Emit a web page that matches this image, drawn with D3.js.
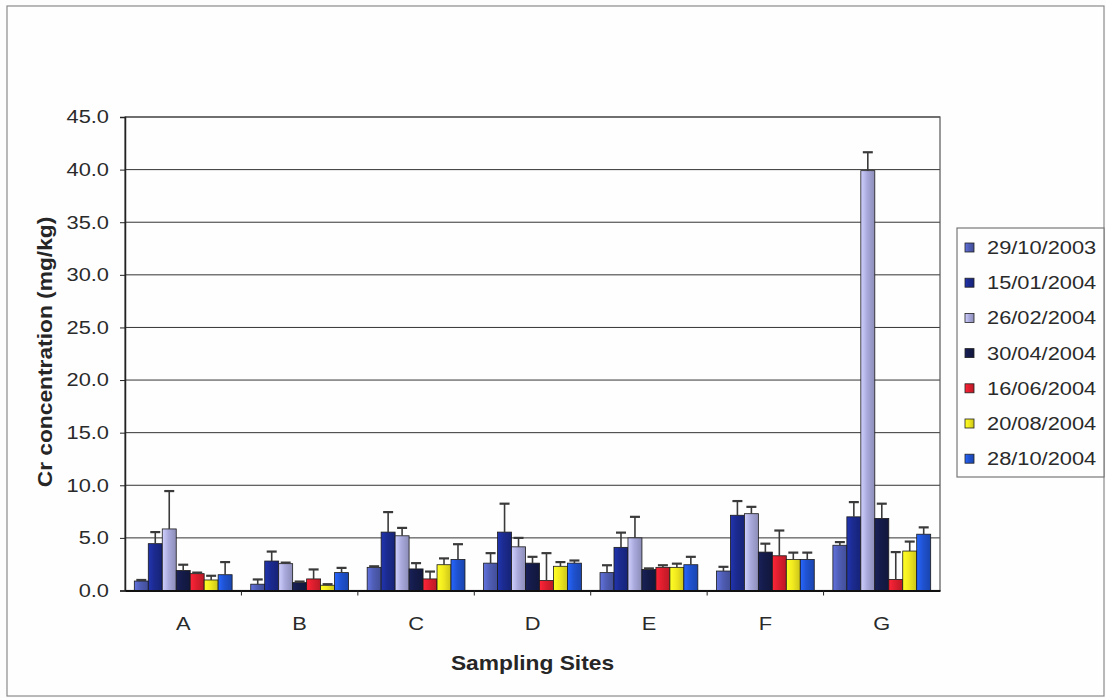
<!DOCTYPE html>
<html>
<head>
<meta charset="utf-8">
<script src="https://cdn.jsdelivr.net/npm/d3@7"></script>
<style>
  body { margin: 0; background: #fdfdfd; }
  text { font-family: Arial, "Liberation Sans", sans-serif; fill: #262626; }
</style>
</head>
<body>
<div id="chart-area"></div>
<script>
// sites and sampling dates
var sites = ["A", "B", "C", "D", "E", "F", "G"];
var dates = ["29/10/2003", "15/01/2004", "26/02/2004", "30/04/2004", "16/06/2004", "20/08/2004", "28/10/2004"];
var colors = ["#4f5db4", "#1b2a8e", "#a9a9dc", "#141b48", "#de1e2e", "#f1ea1f", "#1f52d0"];

// mean Cr (mg/kg) per date, one value per site A..G
var d20031029 = [0.9, 0.6, 2.2, 2.6, 1.7, 1.85, 4.3];
var d20040115 = [4.45, 2.8, 5.55, 5.55, 4.1, 7.15, 7.0];
var d20040226 = [5.85, 2.55, 5.2, 4.15, 5.0, 7.3, 39.9];
var d20040430 = [1.9, 0.75, 2.05, 2.6, 2.0, 3.65, 6.85];
var d20040616 = [1.6, 1.1, 1.1, 0.95, 2.2, 3.3, 1.05];
var d20040820 = [1.0, 0.5, 2.45, 2.3, 2.2, 2.95, 3.75];
var d20041028 = [1.5, 1.7, 2.95, 2.6, 2.45, 2.95, 5.35];

// standard deviation (upper error bars)
var e20031029 = [0.1, 0.45, 0.1, 0.95, 0.7, 0.4, 0.3];
var e20040115 = [1.1, 0.9, 1.9, 2.7, 1.4, 1.35, 1.4];
var e20040226 = [3.6, 0.1, 0.75, 0.85, 2.0, 0.65, 1.75];
var e20040430 = [0.55, 0.1, 0.55, 0.6, 0.1, 0.8, 1.4];
var e20040616 = [0.1, 0.9, 0.7, 2.6, 0.2, 2.4, 2.6];
var e20040820 = [0.4, 0.1, 0.6, 0.4, 0.35, 0.65, 0.9];
var e20041028 = [1.2, 0.45, 1.45, 0.25, 0.75, 0.65, 0.65];

var yTicks = [0, 5, 10, 15, 20, 25, 30, 35, 40, 45];

var means = [d20031029, d20040115, d20040226, d20040430, d20040616, d20040820, d20041028];
var errs = [e20031029, e20040115, e20040226, e20040430, e20040616, e20040820, e20041028];

var width = 1106;
var height = 698;
var plot = {left: 125, right: 940, top: 117, bottom: 590.5};
var sx = 1.18; // the scanned text is wider than it is tall

var svg = d3.select("#chart-area").append("svg")
    .attr("width", width)
    .attr("height", height);

// horizontal shading like the old Excel bars
var defs = svg.append("defs");
colors.forEach((c, i) => {
    var grad = defs.append("linearGradient")
        .attr("id", "grad" + i)
        .attr("x1", "0%").attr("x2", "100%").attr("y1", "0%").attr("y2", "0%");
    grad.append("stop").attr("offset", "0%").attr("stop-color", d3.color(c).brighter(0.6));
    grad.append("stop").attr("offset", "45%").attr("stop-color", c);
    grad.append("stop").attr("offset", "100%").attr("stop-color", d3.color(c).darker(0.5));
});

// outer chart border
svg.append("rect")
    .attr("x", 7).attr("y", 6)
    .attr("width", 1097).attr("height", 690)
    .attr("fill", "#fefefe")
    .attr("stroke", "#8a8a8a")
    .attr("stroke-width", 1.2);

var x0 = d3.scaleBand()
    .domain(sites)
    .range([plot.left, plot.right])
    .paddingInner(0.16)
    .paddingOuter(0.08);

var x1 = d3.scaleBand()
    .domain(d3.range(dates.length))
    .range([0, x0.bandwidth()]);

var y = d3.scaleLinear()
    .domain([0, 45])
    .range([plot.bottom, plot.top]);

// gridlines
svg.append("g")
    .selectAll("line")
    .data(yTicks.slice(1))
    .enter().append("line")
    .attr("x1", plot.left).attr("x2", plot.right)
    .attr("y1", (d) => y(d)).attr("y2", (d) => y(d))
    .attr("stroke", "#333")
    .attr("stroke-width", 1);

// plot frame
svg.append("rect")
    .attr("x", plot.left).attr("y", plot.top)
    .attr("width", plot.right - plot.left)
    .attr("height", plot.bottom - plot.top)
    .attr("fill", "none")
    .attr("stroke", "#555")
    .attr("stroke-width", 1.2);

// bars
var rows = [];
means.forEach((series, si) => {
    series.forEach((v, ci) => {
        rows.push({s: si, site: sites[ci], value: v, err: errs[si][ci]});
    });
});

svg.append("g")
    .selectAll("rect")
    .data(rows)
    .enter().append("rect")
    .attr("x", (d) => x0(d.site) + x1(d.s))
    .attr("y", (d) => y(d.value))
    .attr("width", x1.bandwidth())
    .attr("height", (d) => plot.bottom - y(d.value))
    .attr("fill", (d) => "url(#grad" + d.s + ")")
    .attr("stroke", "#1a1a1a")
    .attr("stroke-width", 0.8);

// error bars (upper only)
var eb = svg.append("g")
    .attr("stroke", "#3a3a3a")
    .attr("stroke-width", 1.6);
rows.forEach((d) => {
    var cx = x0(d.site) + x1(d.s) + x1.bandwidth() / 2;
    eb.append("line")
        .attr("x1", cx).attr("x2", cx)
        .attr("y1", y(d.value)).attr("y2", y(d.value + d.err));
    eb.append("line")
        .attr("x1", cx - 5).attr("x2", cx + 5)
        .attr("y1", y(d.value + d.err)).attr("y2", y(d.value + d.err))
        .attr("stroke-width", 2.2);
});

// y axis
var leftAxis = d3.axisLeft(y)
    .tickValues(yTicks)
    .tickFormat(d3.format(".1f"))
    .tickSize(5);
var ya = svg.append("g")
    .attr("transform", "translate(" + plot.left + ",0)")
    .call(leftAxis);
ya.select(".domain").attr("stroke", "#222").attr("stroke-width", 1.5);
ya.selectAll(".tick line").attr("stroke", "#222");
ya.selectAll("text")
    .attr("font-size", "18.5px")
    .attr("x", -16 / sx)
    .attr("transform", "scale(" + sx + ",1)")
    .style("fill", "#2a2a2a");

// x axis
var bottomAxis = d3.axisBottom(x0).tickSize(0).tickPadding(26);
var xa = svg.append("g")
    .attr("transform", "translate(0," + plot.bottom + ")")
    .call(bottomAxis);
xa.select(".domain").attr("stroke", "#111").attr("stroke-width", 2);
xa.selectAll("text")
    .attr("font-size", "18.5px")
    .attr("transform", "scale(" + sx + ",1)")
    .style("fill", "#2a2a2a");

// tick marks between categories
svg.append("g")
    .selectAll("line")
    .data(sites.slice(1))
    .enter().append("line")
    .attr("x1", (d) => x0(d) - x0.step() * x0.paddingInner() / 2)
    .attr("x2", (d) => x0(d) - x0.step() * x0.paddingInner() / 2)
    .attr("y1", plot.bottom).attr("y2", plot.bottom + 5)
    .attr("stroke", "#222");

// axis labels
svg.append("text")
    .attr("transform", "translate(" + ((plot.left + plot.right) / 2) + ",670) scale(" + sx + ",1)")
    .attr("text-anchor", "middle")
    .attr("font-size", "19.3px")
    .attr("font-weight", "bold")
    .text("Sampling Sites");

svg.append("text")
    .attr("transform", "translate(51.5,352) rotate(-90) scale(" + sx + ",1)")
    .attr("text-anchor", "middle")
    .attr("font-size", "19.3px")
    .attr("font-weight", "bold")
    .text("Cr concentration (mg/kg)");

// legend
var legend = svg.append("g");
legend.append("rect")
    .attr("x", 957).attr("y", 228)
    .attr("width", 147).attr("height", 249)
    .attr("fill", "#fefefe")
    .attr("stroke", "#777")
    .attr("stroke-width", 1.2);

var items = legend.selectAll("g.item")
    .data(dates)
    .enter().append("g")
    .attr("class", "item")
    .attr("transform", (d, i) => "translate(0," + (254 + i * 35.2) + ")");

items.append("rect")
    .attr("x", 965).attr("y", -11)
    .attr("width", 9).attr("height", 9)
    .attr("fill", (d, i) => "url(#grad" + i + ")")
    .attr("stroke", "#222")
    .attr("stroke-width", 0.8);

items.append("text")
    .attr("transform", "translate(987,0) scale(" + sx + ",1)")
    .attr("font-size", "18.5px")
    .style("fill", "#2a2a2a")
    .text((d) => d);
</script>
</body>
</html>
